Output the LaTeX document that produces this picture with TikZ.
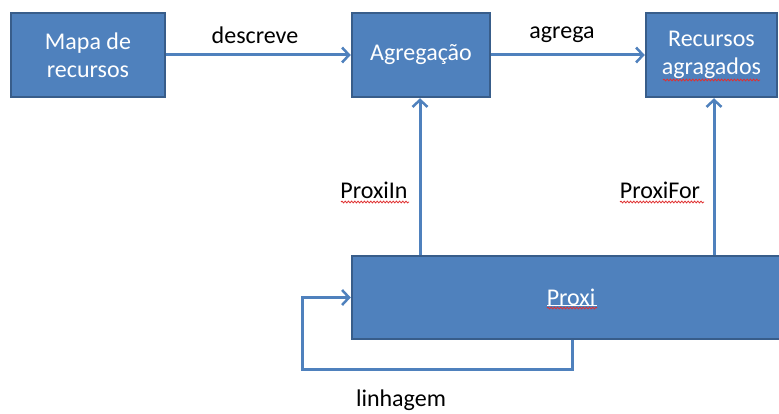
\documentclass[tikz,border=0pt]{standalone}
\usepackage{fontspec}
\setmainfont{Carlito}
\usetikzlibrary{arrows.meta,decorations.pathmorphing}
\definecolor{boxfill}{HTML}{4F81BD}
\definecolor{boxline}{HTML}{385D8A}
\definecolor{wavered}{HTML}{E03030}
\tikzset{
  x=1pt, y=-1pt,
  block/.style={draw=boxline, fill=boxfill, line width=2.5pt, text=white,
    align=center, font=\fontsize{24}{28}\selectfont, inner sep=0pt},
  arr/.style={draw=boxfill, line width=3pt,
    -{Straight Barb[length=7pt,width=15pt,line width=2.5pt]}},
  plainline/.style={draw=boxfill, line width=3pt},
  lbl/.style={font=\fontsize{24}{28}\selectfont, text=black, inner sep=0pt},
  spell/.style={draw=wavered, line width=0.8pt, decorate,
    decoration={snake, amplitude=0.9pt, segment length=3.2pt}}
}
\begin{document}
\begin{tikzpicture}
  \useasboundingbox (0,0) rectangle (779,414);
  \fill[white] (0,0) rectangle (779,414);

  % top row of boxes
  \node[block, minimum width=154pt, minimum height=84pt] (mapa) at (88,55)
    {Mapa de\\recursos};
  \node[block, minimum width=138pt, minimum height=84pt] (agr) at (421,55)
    {Agregação};
  \node[block, minimum width=131pt, minimum height=84pt] (rec) at (711.5,55)
    {Recursos\\agragados};

  % wide proxy box, running off the right edge
  \node[block, minimum width=438pt, minimum height=83pt] (proxi) at (571,297.5)
    {Proxi};

  % horizontal connectors
  \draw[arr] (mapa.east) -- (agr.west);
  \draw[arr] (agr.east) -- (rec.west);
  \node[lbl] (descreve) at (255,35) {descreve};
  \node[lbl] (agrega) at (562,35) {agrega};

  % vertical connectors from the proxy box
  \coordinate (inx) at (420,0);
  \coordinate (forx) at (714,0);
  \draw[arr] (proxi.north -| inx) -- (inx |- agr.south);
  \draw[arr] (proxi.north -| forx) -- (forx |- rec.south);
  \node[lbl] (proxiin) at (374,190) {ProxiIn};
  \node[lbl] (proxifor) at (660,190) {ProxiFor};

  % lineage loop back into the proxy box
  \coordinate (loopstart) at (572,0);
  \coordinate (loopcorner) at (302,369);
  \draw[arr] (proxi.south -| loopstart) |- (loopcorner) |- (proxi.west);
  \node[lbl] (linhagem) at (401,400) {linhagem};

  % spell-check underlines
  \draw[spell] (341,202) -- (409,202);
  \draw[spell] (620,202) -- (704,202);
  \draw[spell] (663,80) -- (760,80);
  \draw[white, line width=0.8pt] (547,305) -- (597,305);
  \draw[spell] (547,308) -- (597,308);
\end{tikzpicture}
\end{document}
